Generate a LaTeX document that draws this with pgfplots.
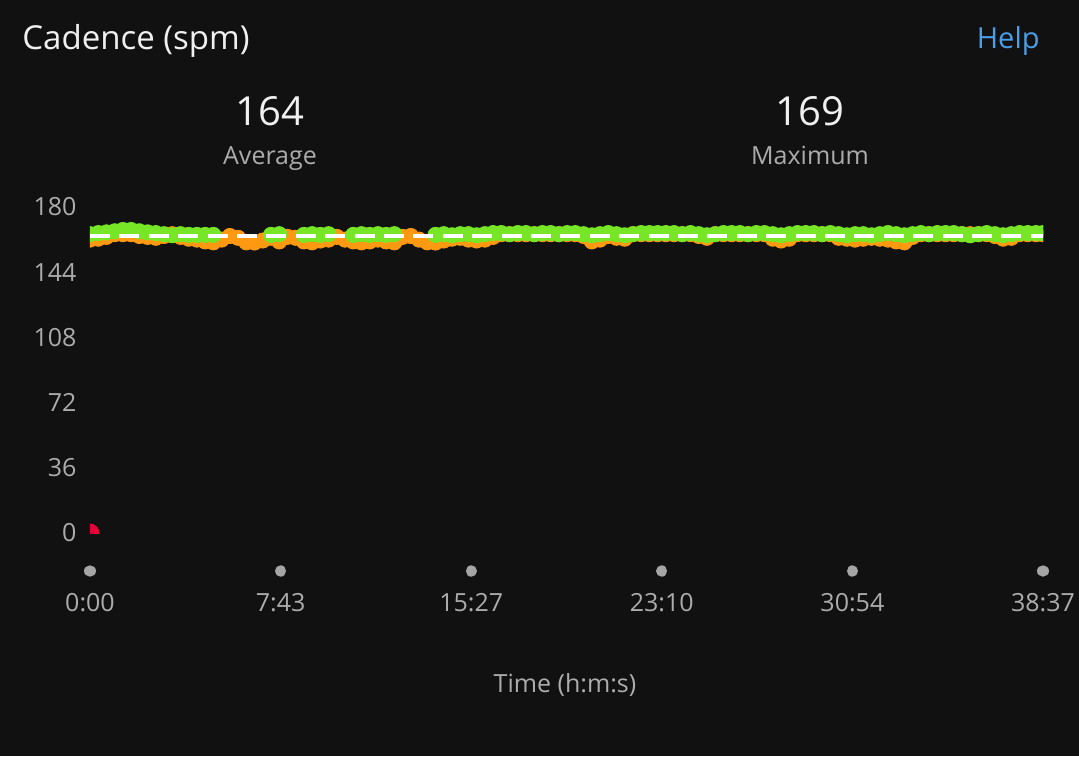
\documentclass[border=0pt]{standalone}
\usepackage{pgfplots}
\pgfplotsset{compat=1.18}
\usepackage{fontspec}
\setmainfont{Open Sans}
\definecolor{bgc}{HTML}{111111}
\definecolor{greenc}{RGB}{118,230,38}
\definecolor{orangec}{RGB}{255,153,18}
\definecolor{redc}{RGB}{230,0,58}
\definecolor{helpblue}{RGB}{74,158,232}
\definecolor{labelgray}{RGB}{172,172,172}
\definecolor{tickgray}{RGB}{165,165,165}
\definecolor{titlewhite}{RGB}{240,240,240}
\begin{document}
\begin{tikzpicture}
\fill[bgc] (-45pt,-111.5pt) rectangle (494.5pt,266.5pt);
\begin{axis}[at={(0pt,0pt)}, anchor=south west, scale only axis,
 width=476.5pt, height=163pt,
 xmin=0, xmax=2317, ymin=0, ymax=180,
 axis x line*=bottom, axis y line*=left, axis line style={draw=none},
 xtick={0,463.4,926.8,1390.2,1853.6,2317},
 xticklabels={0:00,7:43,15:27,23:10,30:54,38:37},
 ytick={0,36,72,108,144,180},
 yticklabels={0,36,72,108,144,180},
 tick label style={font=\fontsize{12.5}{15}\selectfont, text=labelgray},
 ytick style={draw=none},
 xtick style={draw=tickgray, line width=5.6pt, line cap=round, yshift=-19pt},
 major tick length=0.1pt, tick align=center,
 xticklabel style={anchor=base, yshift=-39pt, inner sep=0pt},
 yticklabel style={anchor=east, xshift=-6.5pt, inner sep=0pt},
 clip=true, clip marker paths=true, clip mode=individual,
]
% orange (below-zone cadence)
\addplot[only marks, mark=*, mark size=3.8pt, color=orangec, mark options={fill=orangec, draw=none}] coordinates {
(0,162) (20,162.5) (40,163.5) (60,165) (80,165) (100,165) (120,164) (140,163.5) (160,163) (180,164) (200,165) (220,163.5) (240,162.5) (260,162)
(280,161) (300,160.5) (320,162) (340,164) (360,163) (380,160.5) (400,160.4) (420,161.5) (440,163) (460,161) (480,163.5) (500,163) (520,161) (540,160.5) (560,161.5) (580,162) (600,163.5) (620,162) (640,161) (660,160.5) (680,161) (700,162) (720,161) (740,160.5) (760,163.5) (780,164) (800,162) (820,160.5) (840,160.4) (860,161.5) (880,162.5)
(900,163) (920,162) (940,161.5) (960,162) (980,163.5) (1000,165) (1020,165) (1040,165) (1060,165) (1080,165) (1100,165) (1120,165) (1140,165) (1160,165) (1180,165) (1200,164)
(1220,161) (1240,162) (1260,164) (1280,163) (1300,162.5) (1320,165) (1340,165) (1360,165) (1380,165) (1400,165) (1420,165) (1440,165) (1460,165) (1480,164)
(1500,163) (1520,165) (1540,165) (1560,165) (1580,165) (1600,165) (1620,165) (1640,165) (1660,162.5) (1680,161.5) (1700,162.5) (1720,165) (1740,165) (1760,165) (1780,165) (1800,165)
(1820,163) (1840,162.5) (1860,162) (1880,162.5) (1900,163) (1920,162.5) (1940,162) (1960,161) (1980,160.5) (2000,163.5) (2020,165) (2040,165) (2060,165) (2080,165) (2100,165) (2120,165) (2140,165) (2160,165) (2180,165) (2200,164)
(2220,162.5) (2240,163) (2260,165) (2280,165) (2300,165) (2317,165)
};
% green (in-zone cadence)
\addplot[only marks, mark=*, mark size=3.8pt, color=greenc, mark options={fill=greenc, draw=none}] coordinates {
(0,165) (20,165.6) (40,166) (60,166.6) (80,167.3) (100,167.3) (120,166.6) (140,166) (160,165.6) (180,165) (200,164.4) (220,165) (240,164.6) (260,164.6) (280,164.6) (300,164.6)
(440,164.6) (460,165)
(520,164.6) (540,165) (560,164.6) (580,165)
(640,164.6) (660,165) (680,164.6) (700,165) (720,164.6) (740,165)
(840,164.6) (860,165)
(880,164.4) (900,165) (920,165) (940,164.4) (960,165) (980,165.6) (1000,165.6) (1020,165) (1040,165.6) (1060,165.6) (1080,165) (1100,165.6) (1120,165.6) (1140,165) (1160,165.6) (1180,165.6) (1200,165)
(1220,164.4) (1240,165) (1260,165.6) (1280,165) (1300,164.4) (1320,165) (1340,165.6) (1360,165.6) (1380,165.6) (1400,165.6) (1420,165.6) (1440,165) (1460,165.6) (1480,165)
(1500,164.4) (1520,165) (1540,165.6) (1560,165.6) (1580,165.6) (1600,165) (1620,165.6) (1640,165.6) (1660,165) (1680,164.4) (1700,165) (1720,165.6) (1740,165.6) (1760,165.6) (1780,165) (1800,165.6)
(1820,165) (1840,164.4) (1860,165) (1880,165) (1900,164.4) (1920,165) (1940,165.6) (1960,165) (1980,164.4) (2000,165) (2020,165.6) (2040,165) (2060,165.6) (2080,165.6) (2100,165.6) (2120,165) (2140,164.4) (2160,165) (2180,165.6) (2200,165)
(2220,164.4) (2240,165) (2260,165.6) (2280,165.6) (2300,165.6) (2317,165.6)
};
% average line
\addplot[no marks, color=white, line width=2pt, dash pattern=on 10pt off 4.7pt] coordinates {(0,164) (2317,164)};
% zero reading at start
\addplot[only marks, mark=*, mark size=4.5pt, color=redc, mark options={fill=redc, draw=none}] coordinates {(0,0)};
\end{axis}
\node[anchor=base west, inner sep=0pt, text=titlewhite, font=\fontsize{16.5}{20}\selectfont] at (-34pt,241.5pt) {Cadence (spm)};
\node[anchor=base east, inner sep=0pt, text=helpblue, font=\fontsize{14.5}{18}\selectfont] at (475pt,242pt) {Help};
\node[anchor=base, inner sep=0pt, text=titlewhite, font=\fontsize{20}{24}\selectfont] at (90pt,204pt) {164};
\node[anchor=base, inner sep=0pt, text=labelgray, font=\fontsize{12.5}{15}\selectfont] at (90pt,184.5pt) {Average};
\node[anchor=base, inner sep=0pt, text=titlewhite, font=\fontsize{20}{24}\selectfont] at (360pt,204pt) {169};
\node[anchor=base, inner sep=0pt, text=labelgray, font=\fontsize{12.5}{15}\selectfont] at (360pt,184.5pt) {Maximum};
\node[anchor=base, inner sep=0pt, text=labelgray, font=\fontsize{12.5}{15}\selectfont] at (237.5pt,-79.5pt) {Time (h:m:s)};
\end{tikzpicture}
\end{document}
